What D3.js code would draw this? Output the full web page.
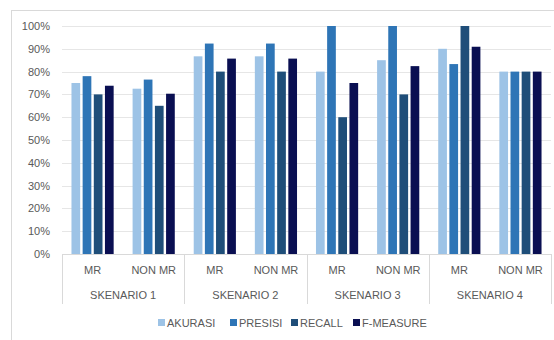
<!DOCTYPE html>
<html>
<head>
<meta charset="utf-8">
<script src="https://cdn.jsdelivr.net/npm/d3@7/dist/d3.min.js"></script>
<style>
  html, body { margin: 0; padding: 0; background: #fff; }
  svg { display: block; font-family: "Liberation Sans", Arial, sans-serif; }
</style>
</head>
<body>
<svg id="chart" width="554" height="340"></svg>
<script>
// Scenario groups and their sub-categories
const scenarios = ["SKENARIO 1", "SKENARIO 2", "SKENARIO 3", "SKENARIO 4"];
const subCategories = ["MR", "NON MR"];
const seriesNames = ["AKURASI", "PRESISI", "RECALL", "F-MEASURE"];
const seriesColors = ["#9dc3e6", "#2e75b6", "#1f4e79", "#0a0f52"];

// Values in percent, one row per series, ordered S1 MR, S1 NON MR, S2 MR, ...
const akurasi  = [75, 72.5, 86.7, 86.7, 80, 85, 90, 80];
const presisi  = [78, 76.5, 92.3, 92.3, 100, 100, 83.3, 80];
const recall   = [70, 65, 80, 80, 60, 70, 100, 80];
const fMeasure = [73.8, 70.3, 85.7, 85.7, 75, 82.4, 90.9, 80];
const yTicks = [0, 10, 20, 30, 40, 50, 60, 70, 80, 90, 100];

const seriesValues = [akurasi, presisi, recall, fMeasure];

const svg = d3.select("#chart");
const plotLeft = 62, plotRight = 551, plotTop = 26, plotBottom = 254;

// Outer chart frame
svg.append("rect")
  .attr("x", 11.5).attr("y", 10.5)
  .attr("width", 560).attr("height", 340)
  .attr("fill", "none").attr("stroke", "#d9d9d9");

const groups = [];
scenarios.forEach((s, i) => subCategories.forEach((c, j) => groups.push({ key: s + "|" + c, scenario: s, sub: c, idx: i * 2 + j })));

const x0 = d3.scaleBand().domain(groups.map(g => g.key)).range([plotLeft, plotRight]).paddingInner(0.31).paddingOuter(0.155);
const x1 = d3.scaleBand().domain(seriesNames).range([0, x0.bandwidth()]).paddingInner(0.22);
const y = d3.scaleLinear().domain([0, 100]).range([plotBottom, plotTop]);

// Gridlines and y labels
const yAxis = d3.axisLeft(y).tickValues(yTicks).tickFormat(d => d + "%").tickSize(-(plotRight - plotLeft)).tickPadding(12);
const ya = svg.append("g").attr("transform", `translate(${plotLeft},0)`).call(yAxis);
ya.select(".domain").remove();
ya.selectAll(".tick line").attr("stroke", "#e6e6e6").attr("shape-rendering", "crispEdges");
ya.selectAll(".tick text").attr("fill", "#595959").attr("font-size", "11px")
  .attr("font-family", "Liberation Sans, Arial, sans-serif");

// Bars
groups.forEach(g => {
  const gx = x0(g.key);
  seriesNames.forEach((name, si) => {
    const v = seriesValues[si][g.idx];
    svg.append("rect")
      .attr("x", gx + x1(name))
      .attr("y", y(v))
      .attr("width", x1.bandwidth())
      .attr("height", y(0) - y(v))
      .attr("fill", seriesColors[si]);
  });
});

// Category axis: baseline, separators and two-level labels
const catBottom = 304;
svg.append("line").attr("x1", plotLeft).attr("x2", plotRight).attr("y1", plotBottom + 0.5).attr("y2", plotBottom + 0.5)
  .attr("stroke", "#d9d9d9");
const step = x0.step();
for (let i = 0; i <= scenarios.length; i++) {
  const sx = Math.round(plotLeft + i * step * 2) + 0.5;
  svg.append("line").attr("x1", sx).attr("x2", sx).attr("y1", plotBottom).attr("y2", catBottom)
    .attr("stroke", "#d9d9d9");
}
groups.forEach((g, k) => {
  svg.append("text")
    .attr("x", plotLeft + step * (k + 0.5))
    .attr("y", 274)
    .attr("text-anchor", "middle")
    .attr("fill", "#595959").attr("font-size", "11px")
    .text(g.sub);
});
scenarios.forEach((s, i) => {
  svg.append("text")
    .attr("x", plotLeft + step * (i * 2 + 1))
    .attr("y", 299)
    .attr("text-anchor", "middle")
    .attr("fill", "#595959").attr("font-size", "11px")
    .text(s);
});

// Legend
const legendX = [158, 230, 291, 353];
const legend = svg.append("g");
seriesNames.forEach((name, i) => {
  legend.append("rect").attr("x", legendX[i]).attr("y", 319).attr("width", 7).attr("height", 7)
    .attr("fill", seriesColors[i]);
  legend.append("text").attr("x", legendX[i] + 9).attr("y", 327)
    .attr("fill", "#595959").attr("font-size", "11px").text(name);
});
</script>
</body>
</html>
